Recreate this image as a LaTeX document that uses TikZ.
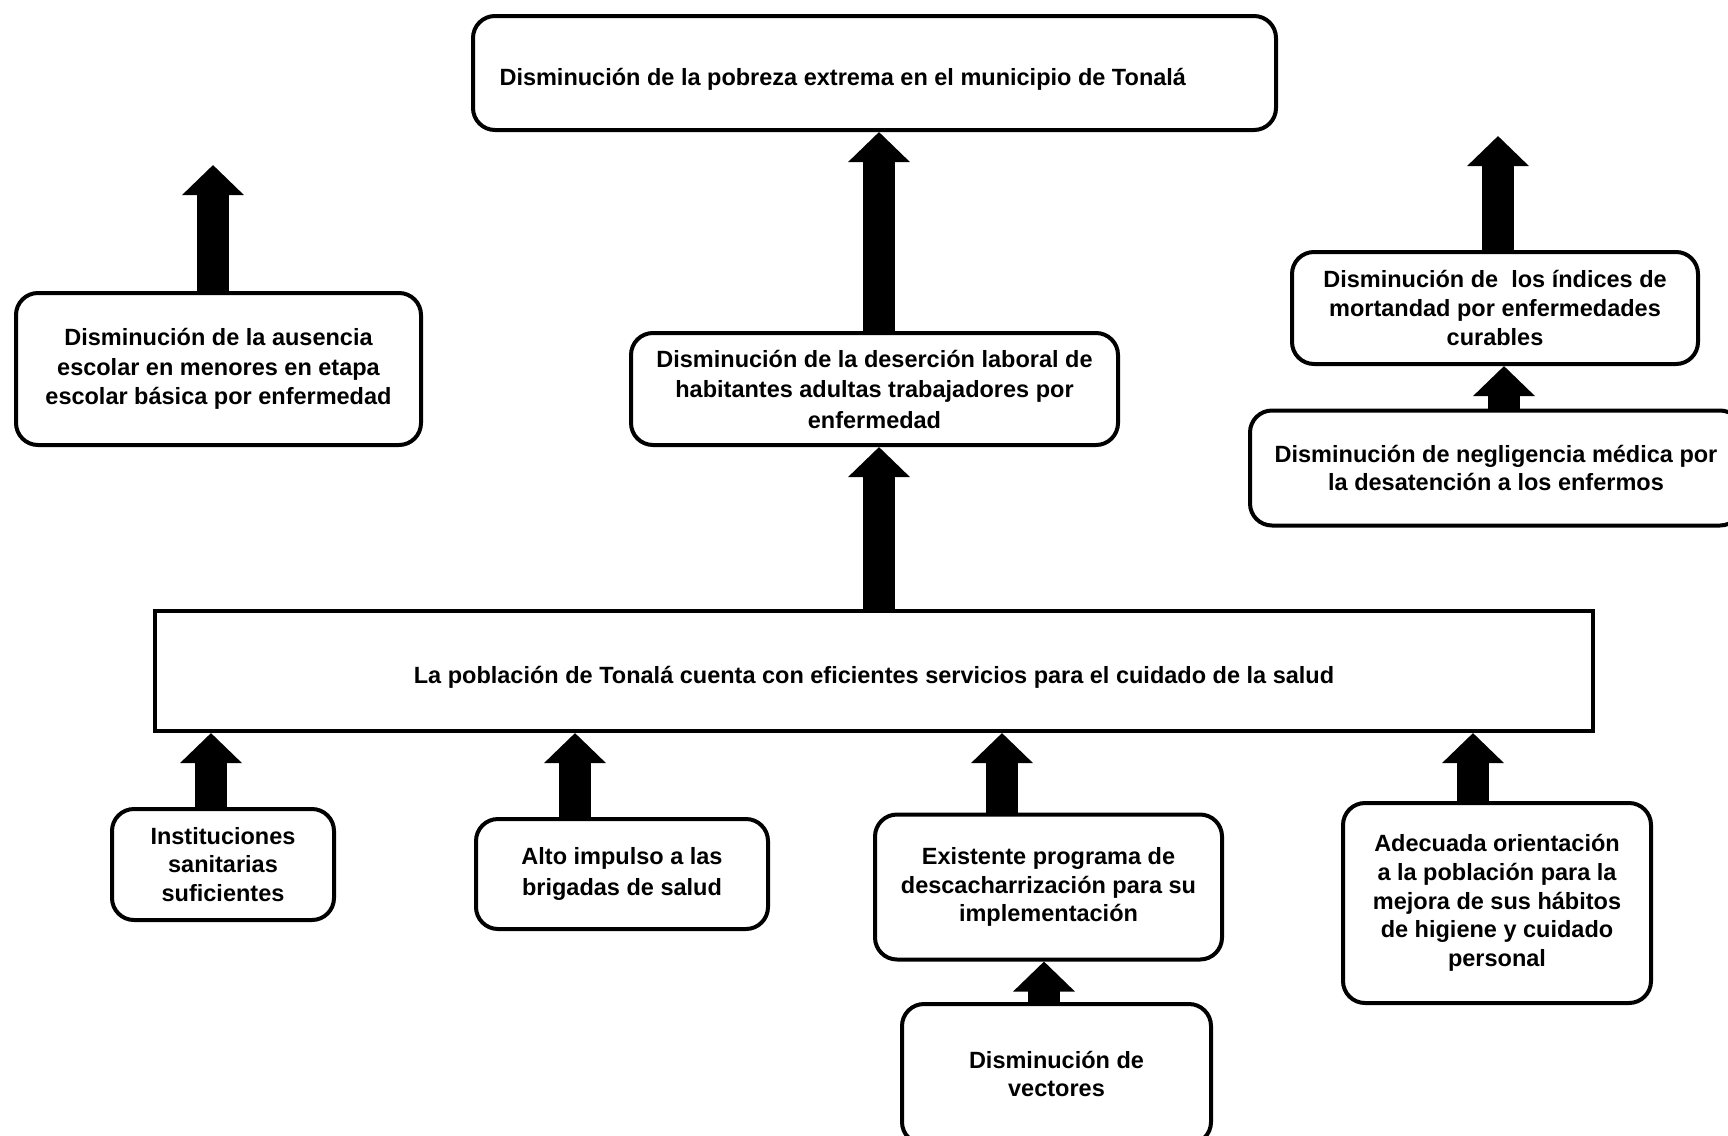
\documentclass[tikz,border=0pt]{standalone}
\usepackage{fontspec}
\setmainfont{Liberation Sans}
\usetikzlibrary{arrows.meta,positioning,calc}

\tikzset{
  caja/.style={draw, line width=4pt, rounded corners=22pt, align=center,
    inner sep=0pt, font=\fontsize{23.5}{28.7}\selectfont\bfseries},
  flecha/.style={line width=32pt, -{Triangle[length=30pt,width=60pt]}}
}

\begin{document}
\begin{tikzpicture}[x=1pt,y=-1pt]
  \useasboundingbox (0,0) rectangle (1728,1135);
  % fines
  \node[caja, minimum width=803, minimum height=114] (pobreza) at (874.5,73) {};
  \node[anchor=west, font=\fontsize{23.5}{28.7}\selectfont\bfseries] (pobrezatxt) at (496,79)
    {Disminución de la pobreza extrema en el municipio de Tonalá};
  \node[caja, minimum width=405, minimum height=152, font=\fontsize{23.5}{29.7}\selectfont\bfseries] (ausencia) at (218.5,369)
    {Disminución de la ausencia\\escolar en menores en etapa\\escolar básica por enfermedad};
  \node[caja, minimum width=487, minimum height=112, font=\fontsize{23.5}{30.5}\selectfont\bfseries] (desercion) at (874.5,389)
    {Disminución de la deserción laboral de\\habitantes adultas trabajadores por\\enfermedad};
  \node[caja, minimum width=406, minimum height=112] (mortandad) at (1495,308)
    {Disminución de \ los índices de\\mortandad por enfermedades\\curables};
  \node[caja, minimum width=492, minimum height=115] (negligencia) at (1496,468)
    {Disminución de negligencia médica por\\la desatención a los enfermos};
  % objetivo
  \node[caja, rounded corners=0pt, minimum width=1438, minimum height=120] (poblacion) at (874,671)
    {\raisebox{-6.5pt}[\height][\depth]{La población de Tonalá cuenta con eficientes servicios para el cuidado de la salud}};
  % medios
  \node[caja, minimum width=222, minimum height=111] (instituciones) at (223,864.5)
    {Instituciones\\sanitarias\\suficientes};
  \node[caja, minimum width=292, minimum height=110, font=\fontsize{23.5}{30.5}\selectfont\bfseries] (impulso) at (622,874)
    {Alto impulso a las\\brigadas de salud};
  \node[caja, minimum width=347, minimum height=145] (descacharrizacion) at (1048.5,887)
    {Existente programa de\\descacharrización para su\\implementación};
  \node[caja, minimum width=308, minimum height=200] (orientacion) at (1497,903)
    {Adecuada orientación\\a la población para la\\mejora de sus hábitos\\de higiene y cuidado\\personal};
  \node[caja, minimum width=309, minimum height=140] (vectores) at (1056.5,1074)
    {Disminución de\\vectores};
  % flechas
  \coordinate (ausenciatop) at (213,165);
  \coordinate (mortandadtop) at (1498,136);
  \draw[flecha] (ausencia.north -| ausenciatop) -- (ausenciatop);
  \draw[flecha] (mortandad.north -| mortandadtop) -- (mortandadtop);
  \draw[flecha] ([xshift=4.5pt]desercion.north) -- ([xshift=4.5pt]pobreza.south);
  \draw[flecha] ([xshift=5pt]poblacion.north) -- ([xshift=5pt]poblacion.north |- desercion.south);
  \draw[flecha] ([xshift=8pt]negligencia.north) -- ([xshift=8pt]negligencia.north |- mortandad.south);
  \draw[flecha] ([xshift=-12pt]instituciones.north) -- ([xshift=-12pt]instituciones.north |- poblacion.south);
  \draw[flecha] ([xshift=-47pt]impulso.north) -- ([xshift=-47pt]impulso.north |- poblacion.south);
  \draw[flecha] ([xshift=-46.5pt]descacharrizacion.north) -- ([xshift=-46.5pt]descacharrizacion.north |- poblacion.south);
  \draw[flecha] ([xshift=-24pt]orientacion.north) -- ([xshift=-24pt]orientacion.north |- poblacion.south);
  \draw[flecha] ([xshift=-12.5pt]vectores.north) -- ([xshift=-12.5pt]vectores.north |- descacharrizacion.south);
\end{tikzpicture}
\end{document}
